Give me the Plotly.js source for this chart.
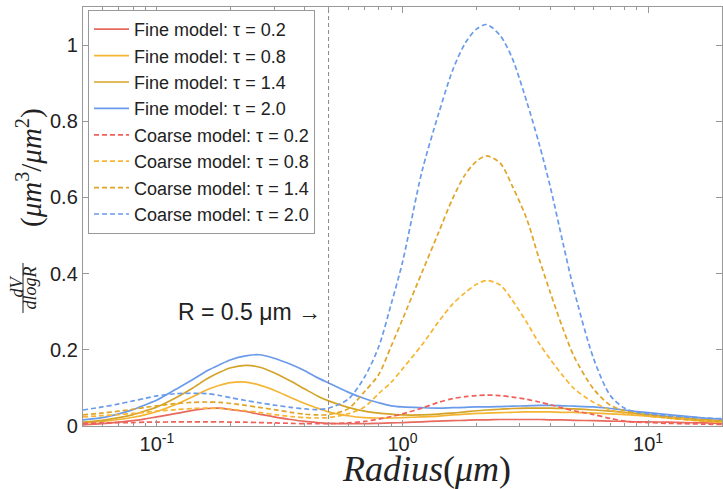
<!DOCTYPE html>
<html>
<head>
<meta charset="utf-8">
<script src="https://cdn.plot.ly/plotly-3.0.1.min.js"></script>
<style>html,body{margin:0;padding:0;background:#fff;}#chart{width:723px;height:489px;}</style>
</head>
<body>
<div id="chart"></div>
<script>
// Radius grid (μm)
const radius = [0.05,0.06,0.07,0.08,0.09,0.1,0.12,0.14,0.16,0.18,0.2,0.23,0.26,0.3,0.35,0.4,0.45,0.5,0.6,0.7,0.8,0.9,1.0,1.2,1.4,1.6,1.8,2.0,2.2,2.5,2.8,3.2,3.6,4,4.5,5,6,7,8,9,10,12,14,17,20];

// Fine model dV/dlogR
const fine02 = [0.003,0.006,0.010,0.014,0.019,0.024,0.033,0.041,0.046,0.047,0.043,0.038,0.031,0.024,0.017,0.012,0.009,0.007,0.006,0.006,0.007,0.008,0.009,0.011,0.013,0.014,0.015,0.016,0.016,0.017,0.017,0.017,0.017,0.016,0.016,0.015,0.014,0.013,0.012,0.011,0.011,0.010,0.009,0.008,0.007];
const fine08 = [0.008,0.012,0.017,0.023,0.030,0.038,0.057,0.077,0.095,0.107,0.114,0.115,0.108,0.094,0.075,0.059,0.047,0.037,0.027,0.022,0.021,0.021,0.022,0.024,0.026,0.029,0.031,0.033,0.034,0.035,0.036,0.037,0.037,0.037,0.036,0.036,0.034,0.032,0.030,0.028,0.026,0.021,0.017,0.013,0.010];
const fine14 = [0.010,0.015,0.022,0.030,0.040,0.050,0.075,0.100,0.124,0.141,0.153,0.159,0.155,0.140,0.118,0.097,0.079,0.066,0.049,0.039,0.034,0.031,0.029,0.029,0.031,0.034,0.037,0.040,0.042,0.044,0.046,0.047,0.047,0.047,0.046,0.045,0.042,0.039,0.036,0.033,0.030,0.025,0.021,0.017,0.014];
const fine20 = [0.016,0.022,0.032,0.043,0.056,0.068,0.097,0.122,0.145,0.161,0.174,0.184,0.187,0.178,0.162,0.145,0.127,0.113,0.089,0.072,0.061,0.053,0.050,0.048,0.047,0.048,0.049,0.050,0.050,0.051,0.052,0.053,0.054,0.054,0.053,0.052,0.050,0.046,0.042,0.038,0.035,0.030,0.026,0.021,0.018];

// Coarse model dV/dlogR
const coarse02 = [0.007,0.008,0.009,0.009,0.010,0.010,0.011,0.011,0.011,0.011,0.010,0.010,0.009,0.008,0.007,0.006,0.006,0.006,0.008,0.012,0.018,0.025,0.032,0.047,0.062,0.072,0.077,0.080,0.081,0.080,0.076,0.070,0.063,0.056,0.047,0.040,0.030,0.020,0.013,0.010,0.009,0.007,0.006,0.005,0.004];
const coarse08 = [0.024,0.027,0.030,0.033,0.036,0.039,0.043,0.046,0.047,0.046,0.044,0.040,0.036,0.030,0.025,0.022,0.021,0.022,0.032,0.050,0.085,0.115,0.150,0.213,0.273,0.320,0.350,0.372,0.382,0.370,0.330,0.273,0.217,0.175,0.132,0.098,0.062,0.042,0.034,0.029,0.026,0.021,0.017,0.013,0.010];
const coarse14 = [0.029,0.034,0.039,0.044,0.049,0.053,0.059,0.062,0.063,0.062,0.059,0.054,0.049,0.043,0.036,0.031,0.029,0.030,0.045,0.090,0.135,0.210,0.280,0.403,0.507,0.597,0.660,0.695,0.709,0.690,0.630,0.545,0.439,0.350,0.256,0.182,0.097,0.055,0.040,0.033,0.029,0.022,0.018,0.014,0.012];
const coarse20 = [0.042,0.050,0.058,0.066,0.073,0.079,0.085,0.086,0.085,0.080,0.074,0.067,0.061,0.055,0.049,0.045,0.043,0.047,0.070,0.128,0.208,0.321,0.430,0.668,0.818,0.934,1.005,1.042,1.054,1.025,0.965,0.853,0.741,0.627,0.481,0.355,0.177,0.081,0.047,0.036,0.032,0.027,0.024,0.021,0.019];

const fineNames = ['Fine model: τ = 0.2','Fine model: τ = 0.8','Fine model: τ = 1.4','Fine model: τ = 2.0'];
const coarseNames = ['Coarse model: τ = 0.2','Coarse model: τ = 0.8','Coarse model: τ = 1.4','Coarse model: τ = 2.0'];
const cutRadius = 0.5;
const yMax = 1.1;
const xTickVals = [0.1, 1, 10];
const xTickText = ['10<sup>-1</sup>','10<sup>0</sup>','10<sup>1</sup>'];
const xMinorVals = [0.06,0.07,0.08,0.09,0.2,0.3,0.4,0.5,0.6,0.7,0.8,0.9,2,3,4,5,6,7,8,9];

const fineColors = ['#E8695E','#F4B534','#D4A428','#6A9BEA'];
const coarseColors = ['#F0605A','#F8B531','#E0A526','#6A9BEA'];

const fineData = [fine02, fine08, fine14, fine20];
const coarseData = [coarse02, coarse08, coarse14, coarse20];

const traces = [];
fineData.forEach((y, i) => traces.push({
  x: radius, y: y, type: 'scatter', mode: 'lines', name: fineNames[i],
  line: {color: fineColors[i], width: 1.7, shape: 'spline', smoothing: 0.8}
}));
coarseData.forEach((y, i) => traces.push({
  x: radius, y: y, type: 'scatter', mode: 'lines', name: coarseNames[i],
  line: {color: coarseColors[i], width: 1.7, dash: '5px,3px', shape: 'spline', smoothing: 0.8}
}));
traces.push({
  x: [cutRadius, cutRadius], y: [0, yMax], type: 'scatter', mode: 'lines',
  showlegend: false, hoverinfo: 'skip',
  line: {color: '#888', width: 1, dash: '4px,3px'}
});

const W = 723, H = 489, L = 83, R = 1, T = 7, B = 63;
const pw = W - L - R, ph = H - T - B;
const px = v => (v - L) / pw;
const py = v => (H - B - v) / ph;

const serif = 'Liberation Serif, Times New Roman, serif';
const sans = 'Liberation Sans, Arial, sans-serif';

const layout = {
  width: W, height: H,
  margin: {l: L, r: R, t: T, b: B, pad: 0},
  paper_bgcolor: '#fff', plot_bgcolor: '#fff',
  showlegend: true,
  font: {family: sans, color: '#222', size: 18},
  xaxis: {
    type: 'log', range: [Math.log10(0.05), Math.log10(20)],
    tickmode: 'array', tickvals: xTickVals, ticktext: xTickText,
    ticks: 'inside', ticklen: 6, tickcolor: '#999', tickwidth: 1,
    minor: {tickmode: 'array', tickvals: xMinorVals, ticks: 'inside', ticklen: 3, tickcolor: '#999', showgrid: false},
    showline: true, linecolor: '#999', linewidth: 1.2, mirror: 'allticks',
    showgrid: false, zeroline: false,
    tickfont: {family: sans, size: 20, color: '#222'}
  },
  yaxis: {
    range: [0, yMax], dtick: 0.2, tick0: 0,
    ticks: 'inside', ticklen: 6, tickcolor: '#999', tickwidth: 1,
    showline: true, linecolor: '#999', linewidth: 1.2, mirror: 'allticks',
    showgrid: false, zeroline: false,
    tickfont: {family: sans, size: 20, color: '#222'}
  },
  legend: {
    x: px(88), y: py(10), xanchor: 'left', yanchor: 'top',
    bgcolor: '#fff', bordercolor: '#999', borderwidth: 1,
    font: {family: sans, size: 18, color: '#222'},
    itemwidth: 35, tracegroupgap: 0
  },
  shapes: [
    {type: 'line', xref: 'paper', yref: 'paper', x0: px(23), x1: px(23), y0: py(313), y1: py(263), line: {color: '#222', width: 1}}
  ],
  annotations: [
    {xref: 'x', yref: 'y', x: Math.log10(cutRadius), y: 0.298, xanchor: 'right', yanchor: 'middle', xshift: -6,
     text: 'R = 0.5 μm →', showarrow: false, font: {family: sans, size: 23, color: '#222'}},
    {xref: 'paper', yref: 'paper', x: px(426), y: py(469), xanchor: 'center', yanchor: 'middle', showarrow: false,
     text: '<i>Radius</i>(<i>μm</i>)', font: {family: serif, size: 36, color: '#222'}},
    {xref: 'paper', yref: 'paper', x: px(29), y: py(168), xanchor: 'center', yanchor: 'middle', textangle: -90, showarrow: false,
     text: '(<i>μm</i><sup>3</sup>/<i>μm</i><sup>2</sup>)', font: {family: serif, size: 29, color: '#222'}},
    {xref: 'paper', yref: 'paper', x: px(16.5), y: py(287), xanchor: 'center', yanchor: 'middle', textangle: -90, showarrow: false,
     text: '<i>dV</i>', font: {family: serif, size: 18, color: '#222'}},
    {xref: 'paper', yref: 'paper', x: px(29.5), y: py(288), xanchor: 'center', yanchor: 'middle', textangle: -90, showarrow: false,
     text: '<i>dlogR</i>', font: {family: serif, size: 18, color: '#222'}}
  ]
};

Plotly.newPlot('chart', traces, layout, {displayModeBar: false, staticPlot: true});
</script>
</body>
</html>
